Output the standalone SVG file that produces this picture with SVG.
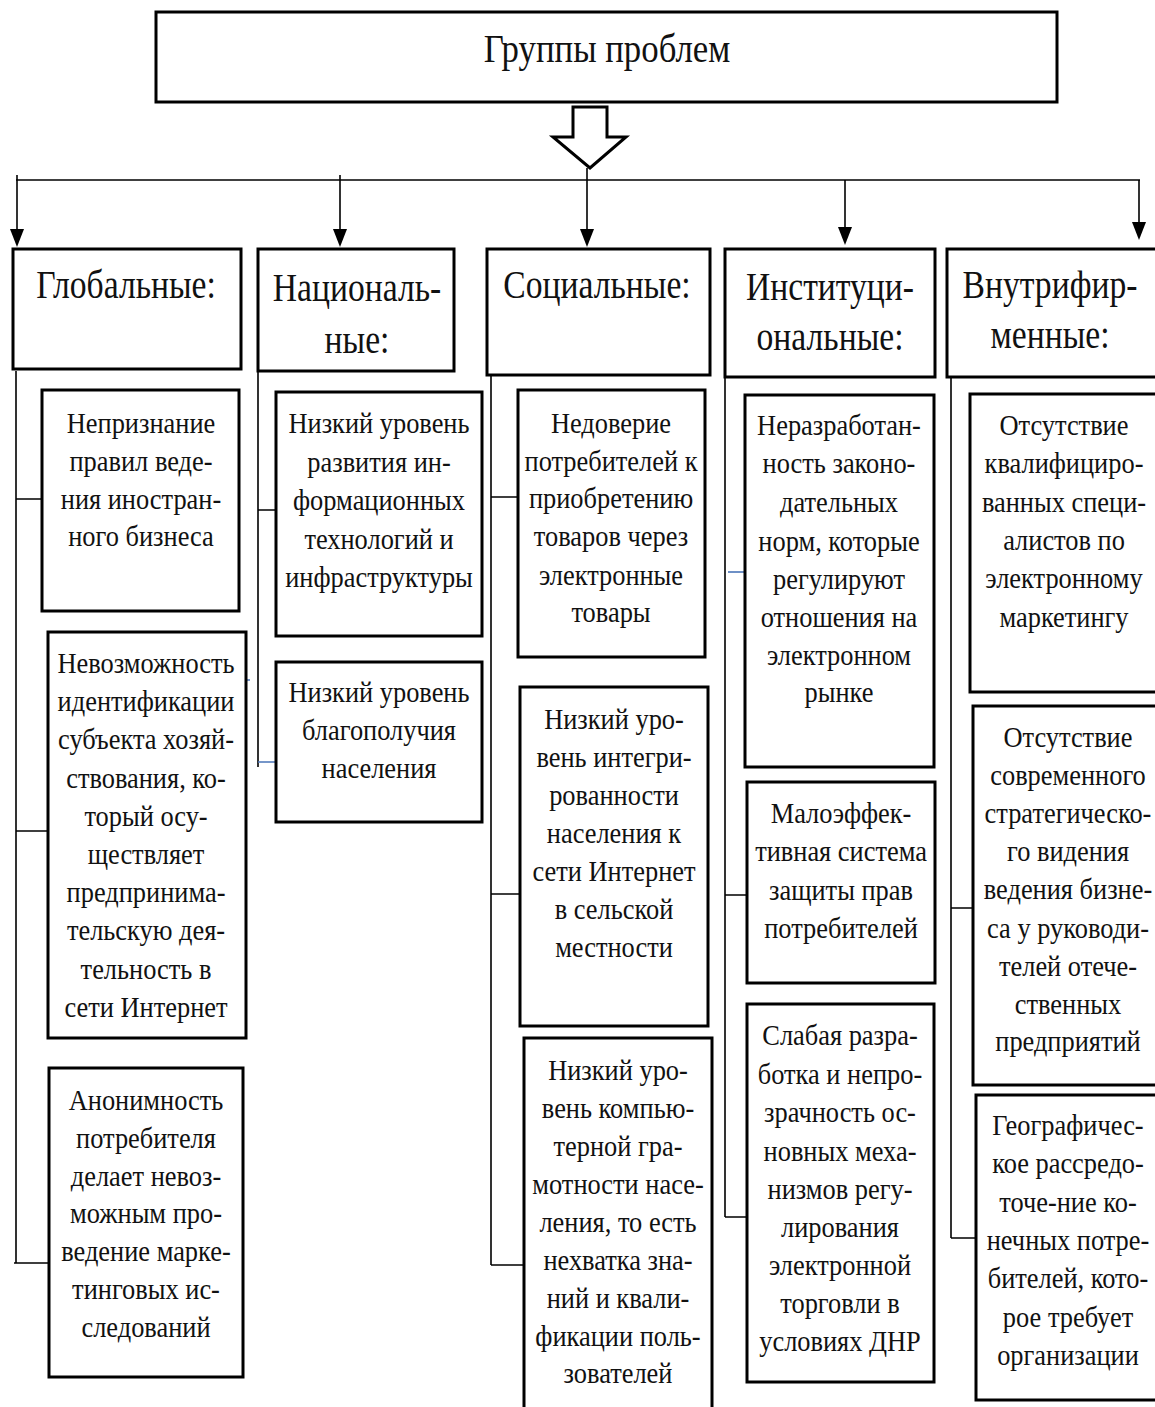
<svg xmlns="http://www.w3.org/2000/svg" width="1155" height="1407" viewBox="0 0 1155 1407">
<style>
.box{fill:#fff;stroke:#000;stroke-width:3}
.ln{fill:none;stroke:#000;stroke-width:1.6}
.bl{fill:none;stroke:#4a74b8;stroke-width:1.6}
.t,.h,.m{font-family:'Liberation Serif','Times New Roman',Tinos,'DejaVu Serif','Noto Serif',FreeSerif,serif;fill:#111;text-anchor:middle}
.t{font-size:30px}
.h{font-size:41px}
.m{font-size:40px}
</style>
<rect width="1155" height="1407" fill="#fff"/>

<g id="title">
<rect class="box" x="156" y="12" width="901" height="90"/>
<text class="m" font-family="Liberation Serif, serif" transform="translate(607 0) scale(0.87 1)"><tspan x="0" y="62">Группы проблем</tspan></text>
</g>

<g id="connectors">
<polygon points="573,107 607,107 607,137 626,137 590,168 553,137 573,137" fill="#fff" stroke="#000" stroke-width="3"/>
<line class="ln" x1="16" y1="180" x2="1140" y2="180"/>
<path class="ln" d="M17,175 V230"/>
<path d="M10,229 L24,229 L17,247 Z" fill="#000"/>
<path class="ln" d="M340,175 V230"/>
<path d="M333,229 L347,229 L340,247 Z" fill="#000"/>
<path class="ln" d="M587,168 V230"/>
<path d="M580,229 L594,229 L587,247 Z" fill="#000"/>
<path class="ln" d="M845,180 V228"/>
<path d="M838,227 L852,227 L845,245 Z" fill="#000"/>
<path class="ln" d="M1139,180 V223"/>
<path d="M1132,222 L1146,222 L1139,240 Z" fill="#000"/>

<path class="ln" d="M16,371 V1263 M16,499 H42 M16,831 H48 M14,1263 H49"/>
<path class="ln" d="M258,372 V767 M258,510 H276"/>
<path class="bl" d="M258,762 H276 M233,680 H250"/>
<path class="ln" d="M491,376 V1265 M491,497 H518 M491,894 H520 M491,1265 H524"/>
<path class="ln" d="M725,378 V1217 M725,895 H747 M725,1217 H747"/>
<path class="bl" d="M728,572 H745"/>
<path class="ln" d="M951,378 V1238 M951,908 H973 M951,1238 H976"/>
</g>

<g id="cat-global">
<rect class="box" x="13" y="249" width="228" height="120"/>
<text class="h" transform="translate(126 0) scale(0.82 1)"><tspan x="0" y="298">Глобальные:</tspan></text>
</g>
<g id="cat-national">
<rect class="box" x="258" y="249" width="196" height="122"/>
<text class="h" transform="translate(357 0) scale(0.82 1)"><tspan x="0" y="301">Националь-</tspan><tspan x="0" y="353">ные:</tspan></text>
</g>
<g id="cat-social">
<rect class="box" x="487" y="249" width="223" height="126"/>
<text class="h" transform="translate(597 0) scale(0.82 1)"><tspan x="0" y="298">Социальные:</tspan></text>
</g>
<g id="cat-institutional">
<rect class="box" x="725" y="249" width="210" height="128"/>
<text class="h" transform="translate(830 0) scale(0.82 1)"><tspan x="0" y="300">Институци-</tspan><tspan x="0" y="350">ональные:</tspan></text>
</g>
<g id="cat-internal">
<rect class="box" x="947" y="249" width="212" height="128"/>
<text class="h" transform="translate(1050 0) scale(0.82 1)"><tspan x="0" y="298">Внутрифир-</tspan><tspan x="0" y="348">менные:</tspan></text>
</g>

<g id="g1">
<rect class="box" x="42" y="390" width="197" height="221"/>
<text class="t" transform="translate(141 0) scale(0.88 1)"><tspan x="0" y="433">Непризнание</tspan><tspan x="0" y="471">правил веде-</tspan><tspan x="0" y="509">ния иностран-</tspan><tspan x="0" y="546">ного бизнеса</tspan></text>
</g>
<g id="g2">
<rect class="box" x="48" y="632" width="198" height="406"/>
<text class="t" transform="translate(146 0) scale(0.88 1)"><tspan x="0" y="673">Невозможность</tspan><tspan x="0" y="711">идентификации</tspan><tspan x="0" y="749">субъекта хозяй-</tspan><tspan x="0" y="788">ствования, ко-</tspan><tspan x="0" y="826">торый осу-</tspan><tspan x="0" y="864">ществляет</tspan><tspan x="0" y="902">предпринима-</tspan><tspan x="0" y="940">тельскую дея-</tspan><tspan x="0" y="979">тельность в</tspan><tspan x="0" y="1017">сети Интернет</tspan></text>
</g>
<g id="g3">
<rect class="box" x="49" y="1068" width="194" height="309"/>
<text class="t" transform="translate(146 0) scale(0.88 1)"><tspan x="0" y="1110">Анонимность</tspan><tspan x="0" y="1148">потребителя</tspan><tspan x="0" y="1186">делает невоз-</tspan><tspan x="0" y="1223">можным про-</tspan><tspan x="0" y="1261">ведение марке-</tspan><tspan x="0" y="1299">тинговых  ис-</tspan><tspan x="0" y="1337">следований</tspan></text>
</g>

<g id="n1">
<rect class="box" x="276" y="392" width="206" height="244"/>
<text class="t" transform="translate(379 0) scale(0.88 1)"><tspan x="0" y="433">Низкий уровень</tspan><tspan x="0" y="472">развития ин-</tspan><tspan x="0" y="510">формационных</tspan><tspan x="0" y="549">технологий и</tspan><tspan x="0" y="587">инфраструктуры</tspan></text>
</g>
<g id="n2">
<rect class="box" x="276" y="662" width="206" height="160"/>
<text class="t" transform="translate(379 0) scale(0.88 1)"><tspan x="0" y="702">Низкий уровень</tspan><tspan x="0" y="740">благополучия</tspan><tspan x="0" y="778">населения</tspan></text>
</g>

<g id="s1">
<rect class="box" x="518" y="390" width="187" height="267"/>
<text class="t" transform="translate(611 0) scale(0.88 1)"><tspan x="0" y="433">Недоверие</tspan><tspan x="0" y="471">потребителей к</tspan><tspan x="0" y="508">приобретению</tspan><tspan x="0" y="546">товаров через</tspan><tspan x="0" y="585">электронные</tspan><tspan x="0" y="622">товары</tspan></text>
</g>
<g id="s2">
<rect class="box" x="520" y="687" width="188" height="339"/>
<text class="t" transform="translate(614 0) scale(0.88 1)"><tspan x="0" y="729">Низкий уро-</tspan><tspan x="0" y="767">вень интегри-</tspan><tspan x="0" y="805">рованности</tspan><tspan x="0" y="843">населения к</tspan><tspan x="0" y="881">сети Интернет</tspan><tspan x="0" y="919">в сельской</tspan><tspan x="0" y="957">местности</tspan></text>
</g>
<g id="s3">
<rect class="box" x="524" y="1038" width="188" height="390"/>
<text class="t" transform="translate(618 0) scale(0.88 1)"><tspan x="0" y="1080">Низкий уро-</tspan><tspan x="0" y="1118">вень компью-</tspan><tspan x="0" y="1156">терной гра-</tspan><tspan x="0" y="1194">мотности насе-</tspan><tspan x="0" y="1232">ления, то есть</tspan><tspan x="0" y="1270">нехватка зна-</tspan><tspan x="0" y="1308">ний и квали-</tspan><tspan x="0" y="1346">фикации поль-</tspan><tspan x="0" y="1383">зователей</tspan></text>
</g>

<g id="i1">
<rect class="box" x="745" y="395" width="189" height="372"/>
<text class="t" transform="translate(839 0) scale(0.88 1)"><tspan x="0" y="435">Неразработан-</tspan><tspan x="0" y="473">ность законо-</tspan><tspan x="0" y="512">дательных</tspan><tspan x="0" y="551">норм, которые</tspan><tspan x="0" y="589">регулируют</tspan><tspan x="0" y="627">отношения на</tspan><tspan x="0" y="665">электронном</tspan><tspan x="0" y="702">рынке</tspan></text>
</g>
<g id="i2">
<rect class="box" x="747" y="782" width="188" height="201"/>
<text class="t" transform="translate(841 0) scale(0.88 1)"><tspan x="0" y="823">Малоэффек-</tspan><tspan x="0" y="861">тивная система</tspan><tspan x="0" y="900">защиты прав</tspan><tspan x="0" y="938">потребителей</tspan></text>
</g>
<g id="i3">
<rect class="box" x="747" y="1004" width="187" height="378"/>
<text class="t" transform="translate(840 0) scale(0.88 1)"><tspan x="0" y="1045">Слабая разра-</tspan><tspan x="0" y="1084">ботка и непро-</tspan><tspan x="0" y="1122">зрачность ос-</tspan><tspan x="0" y="1161">новных меха-</tspan><tspan x="0" y="1199">низмов регу-</tspan><tspan x="0" y="1237">лирования</tspan><tspan x="0" y="1275">электронной</tspan><tspan x="0" y="1313">торговли в</tspan><tspan x="0" y="1351">условиях ДНР</tspan></text>
</g>

<g id="f1">
<rect class="box" x="970" y="394" width="189" height="298"/>
<text class="t" transform="translate(1064 0) scale(0.88 1)"><tspan x="0" y="435">Отсутствие</tspan><tspan x="0" y="473">квалифициро-</tspan><tspan x="0" y="512">ванных  специ-</tspan><tspan x="0" y="550">алистов по</tspan><tspan x="0" y="588">электронному</tspan><tspan x="0" y="627">маркетингу</tspan></text>
</g>
<g id="f2">
<rect class="box" x="973" y="706" width="186" height="379"/>
<text class="t" transform="translate(1068 0) scale(0.88 1)"><tspan x="0" y="747">Отсутствие</tspan><tspan x="0" y="785">современного</tspan><tspan x="0" y="823">стратегическо-</tspan><tspan x="0" y="861">го видения</tspan><tspan x="0" y="899">ведения бизне-</tspan><tspan x="0" y="938">са у руководи-</tspan><tspan x="0" y="976">телей отече-</tspan><tspan x="0" y="1014">ственных</tspan><tspan x="0" y="1051">предприятий</tspan></text>
</g>
<g id="f3">
<rect class="box" x="976" y="1095" width="183" height="305"/>
<text class="t" transform="translate(1068 0) scale(0.88 1)"><tspan x="0" y="1135">Географичес-</tspan><tspan x="0" y="1173">кое рассредо-</tspan><tspan x="0" y="1212">точе-ние ко-</tspan><tspan x="0" y="1250">нечных потре-</tspan><tspan x="0" y="1288">бителей, кото-</tspan><tspan x="0" y="1327">рое требует</tspan><tspan x="0" y="1365">организации</tspan></text>
</g>
</svg>
